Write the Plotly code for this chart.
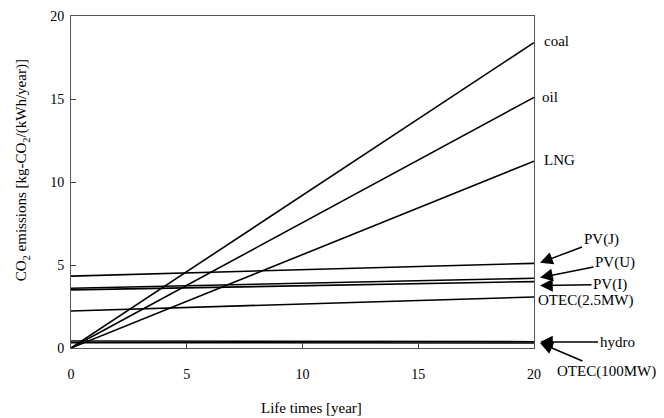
import plotly.graph_objects as go

# Data: emissions at life time 0 and 20 years (linear)
years = [0, 20]
series_names = ["coal", "oil", "LNG", "PV(J)", "PV(U)", "PV(I)", "OTEC(2.5MW)", "hydro", "OTEC(100MW)"]
start_vals = [0.0, 0.0, 0.0, 4.33, 3.6, 3.5, 2.23, 0.42, 0.32]
end_vals = [18.4, 15.1, 11.25, 5.1, 4.2, 4.0, 3.07, 0.38, 0.30]
x_ticks = [0, 5, 10, 15, 20]
y_ticks = [0, 5, 10, 15, 20]

FONT = "Liberation Serif, Times New Roman, serif"
LABEL_FONT = dict(family=FONT, size=15, color="black")

fig = go.Figure()
for name, s, e in zip(series_names, start_vals, end_vals):
    fig.add_trace(go.Scatter(x=years, y=[s, e], mode="lines", name=name,
                             line=dict(color="black", width=1.6), showlegend=False))

annotations = []
# Labels directly at the right end
direct_labels = [("coal", 18.4, 8, 2), ("oil", 15.1, 6, 0), ("LNG", 11.25, 8, 1)]
for txt, yv, dx, dy in direct_labels:
    annotations.append(dict(x=20, y=yv, xref="x", yref="y", text=txt, showarrow=False,
                            xanchor="left", xshift=dx, yshift=dy, font=LABEL_FONT))

# Arrow labels: (text, head_y, text-centre offset dx, dy in pixels)
arrow_labels = [
    ("PV(J)", 5.13, 61, -23),
    ("PV(U)", 4.24, 75, -15),
    ("PV(I)", 3.76, 70, -1),
    ("hydro", 0.36, 77, 0),
    ("OTEC(100MW)", 0.30, 66, 28),
]
for txt, hy, dx, dy in arrow_labels:
    annotations.append(dict(x=1.013, y=hy, xref="paper", yref="y", text=txt, showarrow=True,
                            ax=dx, ay=dy, arrowhead=2, arrowsize=1.7, arrowwidth=1.5,
                            arrowcolor="black", standoff=0, startstandoff=0,
                            xanchor="center", yanchor="middle", font=LABEL_FONT))

annotations.append(dict(x=20, y=3.07, xref="x", yref="y", text="OTEC(2.5MW)", showarrow=False,
                        xanchor="left", xshift=2, yshift=-3, font=LABEL_FONT))

# Axis titles
annotations.append(dict(x=0.52, y=-0.18, xref="paper", yref="paper", text="Life times [year]",
                        xanchor="center", yanchor="middle", showarrow=False, font=LABEL_FONT))
annotations.append(dict(x=-0.104, y=0.535, xref="paper", yref="paper",
                        text="CO<sub>2</sub> emissions [kg-CO<sub>2</sub>/(kWh/year)]",
                        xanchor="center", yanchor="middle",
                        textangle=-90, showarrow=False, font=LABEL_FONT))

# page body has an 8px margin, so the figure is a little smaller and margins compensate
fig.update_layout(
    width=656, height=410,
    margin=dict(l=63, r=130, t=8, b=70, autoexpand=False),
    paper_bgcolor="white", plot_bgcolor="white",
    font=dict(family=FONT, size=14, color="black"),
    annotations=annotations,
)
axis_style = dict(range=[0, 20], ticks="inside", ticklen=5, tickcolor="#444",
                  showgrid=False, zeroline=False, showline=True, linecolor="#555", linewidth=1,
                  mirror=True, automargin=False, ticklabeloverflow="allow",
                  tickfont=dict(family=FONT, size=14))
fig.update_xaxes(tickvals=x_ticks, ticklabelstandoff=13, **axis_style)
fig.update_yaxes(tickvals=y_ticks, ticklabelstandoff=3, **axis_style)

fig.write_html("out.html")
